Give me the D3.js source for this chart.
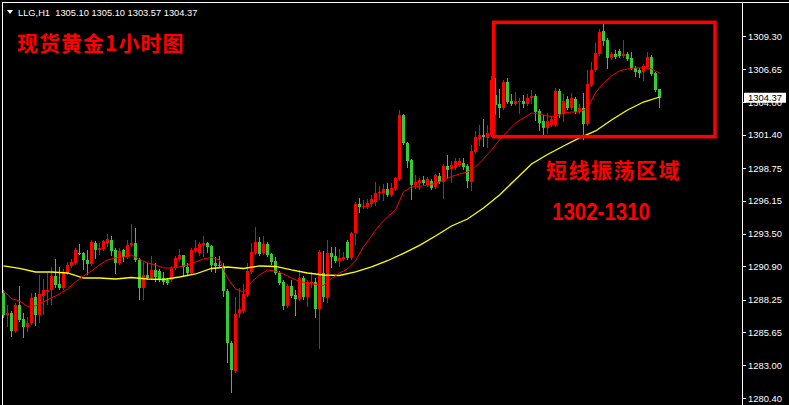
<!DOCTYPE html>
<html><head><meta charset="utf-8">
<script src="https://cdn.jsdelivr.net/npm/d3@7"></script>
<style>html,body{margin:0;padding:0;background:#000;overflow:hidden}</style>
</head><body><svg id="c" width="789" height="405"></svg>
<script>
const symbol = "LLG,H1";
const lastOHLC = [1305.10, 1305.10, 1303.57, 1304.37];
const title = "现货黄金1小时图";
const zoneLabel = "短线振荡区域";
const zoneRange = "1302-1310";
const priceTicks = [1309.30, 1306.65, 1304.00, 1301.40, 1298.75, 1296.15, 1293.50, 1290.90, 1288.25, 1285.65, 1283.00, 1280.40];

const opens = [1288.78,1287.03,1287.19,1285.75,1287.83,1286.71,1286.07,1286.39,1288.46,1287.03,1288.54,1288.86,1289.02,1290.14,1289.50,1289.18,1290.38,1290.94,1291.18,1291.98,1291.98,1291.42,1291.10,1292.78,1292.22,1292.30,1292.78,1293.01,1292.22,1291.18,1292.22,1291.66,1292.62,1292.78,1291.42,1289.18,1290.22,1289.98,1290.62,1290.54,1289.98,1289.82,1289.82,1290.78,1291.50,1291.82,1290.86,1290.38,1292.14,1291.98,1292.62,1292.78,1292.54,1291.18,1291.02,1290.94,1288.94,1284.79,1282.56,1287.19,1287.35,1288.62,1290.46,1291.98,1292.85,1291.98,1292.70,1291.90,1291.34,1290.38,1289.66,1287.75,1289.34,1288.62,1288.31,1289.98,1288.46,1289.58,1289.66,1287.51,1290.38,1288.39,1291.98,1291.74,1291.34,1291.50,1292.85,1291.58,1293.57,1295.89,1295.65,1295.65,1295.89,1296.05,1296.77,1296.77,1297.09,1296.61,1297.09,1297.88,1302.99,1300.76,1299.40,1297.41,1297.57,1297.80,1297.41,1297.72,1297.25,1298.12,1297.65,1298.92,1298.68,1298.76,1299.00,1299.16,1298.92,1297.65,1300.04,1301.08,1301.40,1301.16,1301.40,1304.59,1303.87,1303.55,1305.63,1304.11,1303.87,1304.03,1304.11,1303.87,1304.35,1304.51,1303.31,1302.51,1301.96,1302.19,1302.19,1304.91,1303.07,1304.27,1303.55,1304.27,1303.23,1303.55,1302.27,1305.39,1306.59,1307.86,1309.70,1308.98,1307.54,1307.86,1308.10,1307.70,1307.86,1307.54,1306.75,1306.59,1306.43,1306.83,1307.62,1306.35,1305.10];
const highs = [1289.02,1287.83,1287.35,1287.99,1289.34,1287.19,1286.87,1288.78,1288.78,1290.22,1289.90,1290.38,1290.86,1291.50,1290.86,1290.70,1291.26,1291.50,1292.38,1292.70,1292.06,1292.22,1293.01,1292.93,1292.78,1293.01,1293.49,1293.33,1292.38,1292.38,1292.30,1293.01,1294.29,1293.97,1291.58,1291.26,1291.18,1291.74,1291.18,1290.70,1290.46,1289.98,1290.94,1291.74,1292.30,1291.82,1291.18,1292.38,1293.01,1292.85,1293.33,1292.85,1292.62,1291.66,1291.74,1291.18,1289.10,1284.95,1288.46,1289.18,1289.50,1291.18,1292.78,1294.05,1293.25,1293.33,1292.85,1291.98,1291.66,1290.54,1289.82,1289.50,1289.82,1289.02,1290.62,1290.14,1289.82,1290.46,1289.98,1292.22,1292.14,1293.01,1292.46,1292.46,1292.30,1292.06,1293.01,1293.65,1296.05,1296.37,1296.21,1296.29,1296.61,1297.65,1297.33,1297.49,1297.57,1297.57,1298.04,1303.39,1303.07,1300.84,1299.48,1298.20,1297.96,1298.12,1298.04,1297.88,1298.28,1298.36,1299.08,1299.80,1299.32,1299.56,1299.56,1299.56,1299.08,1300.60,1301.72,1302.19,1302.67,1302.19,1306.11,1305.95,1305.07,1305.79,1305.95,1304.67,1304.83,1304.35,1304.59,1304.67,1304.99,1304.67,1303.47,1302.99,1303.15,1302.91,1305.15,1305.07,1304.67,1304.51,1304.75,1304.43,1303.87,1304.75,1306.59,1307.22,1308.74,1309.86,1310.26,1309.14,1308.02,1308.18,1308.26,1308.98,1308.02,1308.02,1306.91,1306.75,1307.07,1308.02,1307.78,1306.43,1305.10];
const lows = [1286.79,1286.07,1285.27,1285.59,1286.47,1285.19,1285.67,1286.23,1286.15,1286.39,1287.03,1287.83,1287.83,1289.18,1289.02,1289.02,1290.22,1290.78,1291.02,1291.82,1290.62,1290.22,1290.94,1291.50,1291.82,1292.14,1292.46,1291.74,1290.30,1291.02,1291.26,1291.50,1292.46,1291.26,1288.23,1288.23,1289.82,1289.82,1289.66,1289.66,1289.42,1289.42,1289.66,1290.62,1291.26,1290.06,1290.22,1290.22,1291.98,1291.74,1291.66,1291.98,1290.46,1290.38,1290.78,1288.46,1283.20,1280.80,1282.40,1286.79,1287.19,1288.46,1290.30,1291.82,1291.74,1291.82,1291.66,1291.02,1290.22,1289.42,1287.43,1287.59,1288.39,1286.95,1288.15,1288.23,1287.67,1289.18,1286.79,1284.31,1288.07,1287.99,1290.78,1291.18,1290.86,1291.34,1291.42,1291.42,1292.62,1295.17,1295.49,1295.49,1295.65,1295.73,1296.21,1296.13,1296.45,1296.45,1296.93,1297.72,1300.60,1298.76,1296.21,1297.09,1297.01,1297.41,1297.25,1297.01,1297.09,1297.49,1296.29,1297.96,1297.57,1298.60,1298.84,1298.60,1297.17,1296.93,1299.88,1300.52,1300.44,1300.36,1301.24,1302.99,1302.75,1303.39,1303.87,1303.71,1303.71,1303.07,1303.55,1303.71,1303.87,1302.51,1301.72,1301.16,1301.48,1302.04,1302.04,1302.75,1302.43,1303.39,1303.39,1303.07,1303.07,1301.00,1302.12,1305.23,1306.43,1307.70,1308.50,1306.67,1307.38,1307.46,1307.54,1307.54,1307.30,1306.59,1306.03,1305.95,1305.71,1306.67,1306.11,1304.83,1303.57];
const closes = [1287.03,1287.19,1285.75,1287.83,1286.63,1286.07,1286.39,1288.39,1287.03,1288.70,1289.02,1289.02,1290.14,1289.42,1289.18,1290.46,1291.02,1291.26,1292.22,1291.90,1291.42,1291.10,1292.85,1292.22,1292.38,1292.93,1293.09,1292.14,1291.18,1292.14,1291.66,1292.62,1292.78,1291.42,1289.18,1290.22,1289.98,1290.62,1290.06,1289.82,1289.66,1289.58,1290.78,1291.58,1291.82,1290.86,1290.38,1292.22,1292.38,1292.70,1292.78,1292.46,1291.02,1290.94,1290.94,1288.94,1284.79,1282.64,1287.11,1287.51,1288.70,1290.54,1292.06,1292.85,1291.90,1292.70,1291.82,1291.26,1290.38,1289.58,1287.75,1289.34,1288.54,1288.31,1289.98,1288.46,1289.66,1289.66,1287.51,1292.06,1288.46,1291.98,1291.66,1291.34,1291.58,1291.66,1291.58,1293.57,1295.89,1295.65,1295.73,1295.97,1296.29,1296.77,1296.85,1297.09,1296.61,1297.17,1297.96,1302.99,1300.76,1299.32,1297.41,1297.65,1297.80,1297.57,1297.88,1297.17,1298.20,1297.65,1298.92,1298.60,1299.00,1299.32,1299.32,1298.84,1297.72,1300.12,1301.24,1301.40,1301.24,1301.56,1305.79,1303.79,1303.55,1305.63,1304.03,1303.87,1304.11,1304.11,1303.87,1304.35,1304.51,1303.23,1302.35,1301.96,1302.51,1302.67,1304.91,1303.07,1304.11,1303.55,1304.35,1303.23,1303.55,1302.27,1305.47,1306.59,1307.94,1309.62,1308.90,1307.54,1307.86,1307.62,1307.70,1307.86,1307.46,1306.75,1306.43,1306.35,1306.91,1307.62,1306.27,1304.99,1304.37];

// fast moving average (red), one value every 2 bars
const maFastStep = 2;
const maFast = [1288.94,1288.34,1288.15,1287.71,1287.75,1288.07,1288.39,1288.70,1289.10,1289.66,1290.14,1290.54,1291.02,1291.42,1291.58,1291.66,1291.82,1291.46,1291.18,1291.02,1290.78,1290.78,1290.86,1291.02,1291.26,1291.50,1291.62,1291.42,1289.98,1289.10,1288.86,1289.66,1290.22,1290.62,1290.54,1290.30,1289.98,1289.70,1289.58,1289.46,1289.38,1289.94,1290.38,1290.70,1291.34,1292.46,1293.33,1294.21,1294.85,1295.41,1296.85,1297.25,1297.29,1297.41,1297.53,1297.80,1298.08,1298.28,1298.44,1298.84,1299.48,1300.20,1301.00,1301.72,1302.35,1302.75,1303.15,1303.07,1302.91,1302.87,1303.15,1303.23,1303.23,1303.55,1304.75,1305.55,1306.11,1306.51,1306.67,1306.75,1306.75,1306.67,1306.35];
// slow moving average (yellow), one value every 4 bars
const maSlowStep = 4;
const maSlow = [1290.94,1290.74,1290.46,1290.46,1290.38,1289.98,1289.98,1289.90,1290.02,1289.90,1289.86,1290.06,1290.30,1290.74,1290.86,1290.74,1290.94,1290.90,1290.62,1290.38,1290.22,1290.18,1290.46,1290.86,1291.36,1291.95,1292.58,1293.33,1294.13,1294.69,1295.57,1296.61,1297.84,1299.08,1299.84,1300.52,1301.16,1301.72,1302.59,1303.39,1304.03,1304.43];

const W = 789, H = 405;
const svg = d3.select('#c');
svg.append('rect').attr('width', W).attr('height', H).attr('fill', '#000');

const x = d3.scaleLinear().domain([0, opens.length - 1]).range([3.5, 659.5]);
const y = d3.scaleLinear().domain([1280.40, 1309.30]).range([398, 36]);
const UP = '#ff0000', DN = '#32cd32';
const bars = d3.range(opens.length).map(i => ({i, o: opens[i], h: highs[i], l: lows[i], c: closes[i]}));

// frame
const frame = svg.append('g').attr('shape-rendering', 'crispEdges').attr('stroke', '#fff').attr('stroke-width', 1);
frame.append('line').attr('x1', 2.5).attr('x2', 2.5).attr('y1', 2).attr('y2', H);
frame.append('line').attr('x1', 2).attr('x2', W).attr('y1', 2.5).attr('y2', 2.5);

// candles
const g = svg.append('g').attr('shape-rendering', 'crispEdges');
g.selectAll('rect.wick').data(bars).join('rect').attr('class', 'wick')
  .attr('x', d => x(d.i) - 0.5).attr('width', 1)
  .attr('y', d => y(d.h)).attr('height', d => Math.max(1, y(d.l) - y(d.h)))
  .attr('fill', d => d.c >= d.o ? UP : DN);
g.selectAll('rect.body').data(bars).join('rect').attr('class', 'body')
  .attr('x', d => x(d.i) - 1.5).attr('width', 3)
  .attr('y', d => y(Math.max(d.o, d.c)))
  .attr('height', d => Math.max(1, Math.abs(y(d.o) - y(d.c))))
  .attr('fill', d => d.c >= d.o ? UP : DN);

// moving averages
svg.append('path').datum(maSlow)
  .attr('d', d3.line().x((d, k) => x(k * maSlowStep)).y(d => y(d)))
  .attr('fill', 'none').attr('stroke', '#ffff00').attr('stroke-width', 1.3);
svg.append('path').datum(maFast)
  .attr('d', d3.line().x((d, k) => x(k * maFastStep)).y(d => y(d)))
  .attr('fill', 'none').attr('stroke', '#ff0000').attr('stroke-width', 1);

// price axis
const axisX = 742.5;
const ax = svg.append('g').attr('transform', `translate(${axisX},0)`)
  .call(d3.axisRight(y).tickValues(priceTicks).tickFormat(d3.format('.2f')).tickSize(3).tickSizeOuter(0).tickPadding(2.5));
ax.select('.domain').remove();
ax.selectAll('line').attr('stroke', '#fff').attr('shape-rendering', 'crispEdges');
ax.selectAll('text').attr('fill', '#fff').attr('font-family', '"Liberation Sans", Arial, sans-serif').attr('font-size', '9.4px');
svg.append('line').attr('x1', axisX).attr('x2', axisX).attr('y1', 2).attr('y2', H)
  .attr('stroke', '#fff').attr('shape-rendering', 'crispEdges');

// current price tag
const last = closes[closes.length - 1];
svg.append('rect').attr('x', 744).attr('y', y(last) - 5).attr('width', 42).attr('height', 10).attr('fill', '#fff');
svg.append('text').attr('x', 748).attr('y', y(last)).attr('dy', '0.34em')
  .attr('font-family', '"Liberation Sans", Arial, sans-serif').attr('font-size', '9.4px').attr('fill', '#000')
  .text(d3.format('.2f')(last));

// header
svg.append('path').attr('d', 'M7,10 L13,10 L10,14 Z').attr('fill', '#fff');
svg.append('text').attr('x', 18).attr('y', 15.5)
  .attr('font-family', '"Liberation Sans", Arial, sans-serif').attr('font-size', '9.3px').attr('fill', '#fff')
  .attr('xml:space', 'preserve').style('white-space', 'pre')
  .text(symbol + '  ' + lastOHLC.map(d3.format('.2f')).join(' '));

// title
const cjk = '"Noto Sans CJK SC", "Noto Sans CJK JP", sans-serif';
svg.append('text').attr('x', 17).attr('y', 51)
  .attr('font-family', cjk).attr('font-weight', 'bold').attr('font-size', '21px')
  .attr('letter-spacing', '1px').attr('fill', '#ff0000').text(title);

// zone box & labels
svg.append('rect').attr('x', 493.7).attr('y', 22.3).attr('width', 221.3).attr('height', 114.4)
  .attr('fill', 'none').attr('stroke', '#ff0000').attr('stroke-width', 3.5);
svg.append('text').attr('x', 546).attr('y', 178)
  .attr('font-family', cjk).attr('font-weight', 'bold').attr('font-size', '21px')
  .attr('letter-spacing', '1.5px').attr('fill', '#ff0000').text(zoneLabel);
svg.append('text').attr('x', 552).attr('y', 220)
  .attr('font-family', '"Liberation Sans", Arial, sans-serif').attr('font-weight', 'bold').attr('font-size', '23px')
  .attr('textLength', 98).attr('lengthAdjust', 'spacingAndGlyphs')
  .attr('fill', '#ff0000').text(zoneRange);
</script></body></html>
